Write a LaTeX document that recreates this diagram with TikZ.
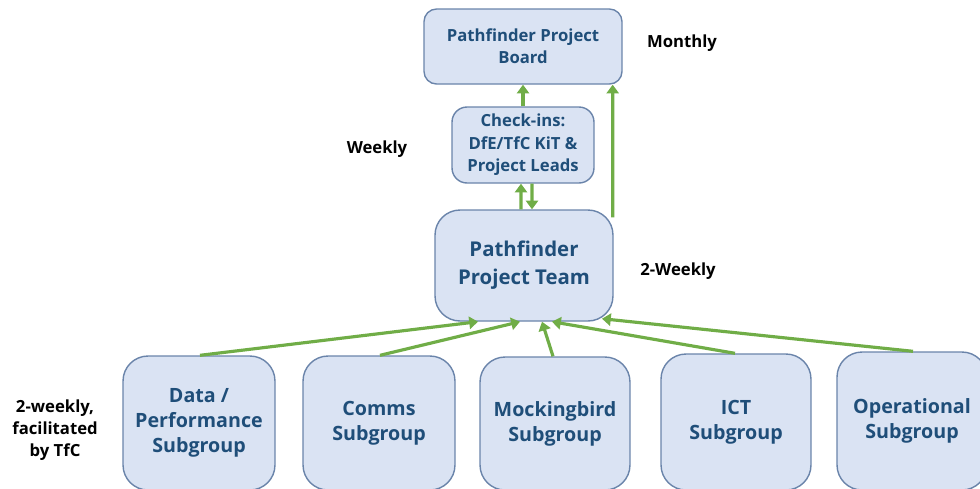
\documentclass[tikz,border=0pt]{standalone}
\usepackage{fontspec}
\setmainfont{Open Sans}
\usetikzlibrary{arrows.meta}
\definecolor{boxfill}{RGB}{218,227,243}
\definecolor{boxline}{RGB}{106,132,170}
\definecolor{boxtext}{RGB}{31,78,121}
\definecolor{linkgreen}{RGB}{112,173,71}
\begin{document}
\begin{tikzpicture}[x=0.02cm, y=-0.02cm,
  unit/.style={draw=boxline, line width=0.8pt, fill=boxfill, text=boxtext, align=center, inner sep=0pt},
  link/.style={draw=linkgreen, line width=1.8pt, -{Triangle[length=5pt,width=7pt]}},
  freq/.style={font=\bfseries\fontsize{9.5}{12.5}\selectfont, align=center}]
\clip (0,0) rectangle (980,488);

% Board, check-ins and team
\node[unit, minimum width=3.96cm, minimum height=1.5cm, rounded corners=0.25cm, font=\bfseries\fontsize{9.5}{12.5}\selectfont] (board) at (523,46.5) {Pathfinder Project\\Board};
\node[unit, minimum width=2.84cm, minimum height=1.52cm, rounded corners=0.3cm, font=\bfseries\fontsize{9.5}{12.8}\selectfont] (checkin) at (523,145) {Check-ins:\\DfE/TfC KiT \&\\Project Leads};
\node[unit, minimum width=3.56cm, minimum height=2.22cm, rounded corners=0.5cm, font=\bfseries\fontsize{11.6}{15.9}\selectfont] (team) at (524,265.5) {Pathfinder\\Project Team};

% Subgroups
\node[unit, minimum width=3.04cm, minimum height=2.68cm, rounded corners=0.5cm, font=\bfseries\fontsize{11.2}{14.2}\selectfont] (data) at (199,423) {Data /\\Performance\\Subgroup};
\node[unit, minimum width=3.04cm, minimum height=2.68cm, rounded corners=0.5cm, font=\bfseries\fontsize{11.2}{14.2}\selectfont] (comms) at (379,423) {Comms\\Subgroup};
\node[unit, minimum width=3.0cm, minimum height=2.66cm, rounded corners=0.5cm, font=\bfseries\fontsize{11.2}{14.2}\selectfont] (mock) at (555,423.5) {Mockingbird\\Subgroup};
\node[unit, minimum width=3.0cm, minimum height=2.72cm, rounded corners=0.5cm, font=\bfseries\fontsize{11.2}{14.2}\selectfont] (ict) at (736,422) {ICT\\Subgroup};
\node[unit, minimum width=3.0cm, minimum height=2.76cm, rounded corners=0.5cm, font=\bfseries\fontsize{11.2}{14.2}\selectfont] (ops) at (912,421) {Operational\\Subgroup};

% Meeting frequencies
\node[freq] (monthly) at (682,43) {Monthly};
\node[freq] (weekly) at (377,149) {Weekly};
\node[freq] (twoweekly) at (678,271) {2-Weekly};
\node[freq] (subfreq) at (55,430) {2-weekly,\\facilitated\\by TfC};

% Reporting lines
\draw[link] (checkin.north) -- (board.south);
\draw[link] ([xshift=-0.06cm]team.north) -- ([xshift=-0.04cm]checkin.south);
\draw[link] ([xshift=0.18cm]checkin.south) -- ([xshift=0.16cm]team.north);
\draw[link] ([xshift=-0.02cm,yshift=-0.16cm]team.north east) -- ([xshift=-0.2cm]board.south east);
\draw[link] ([xshift=0.02cm]data.north) -- ([xshift=-0.92cm]team.south);
\draw[link] ([xshift=0.02cm]comms.north) -- ([xshift=-0.08cm]team.south);
\draw[link] ([xshift=-0.04cm]mock.north) -- ([xshift=0.36cm]team.south);
\draw[link] ([xshift=-0.02cm]ict.north) -- ([xshift=0.56cm]team.south);
\draw[link] ([xshift=0.02cm]ops.north) -- ([xshift=1.56cm,yshift=0.06cm]team.south);
\end{tikzpicture}
\end{document}
